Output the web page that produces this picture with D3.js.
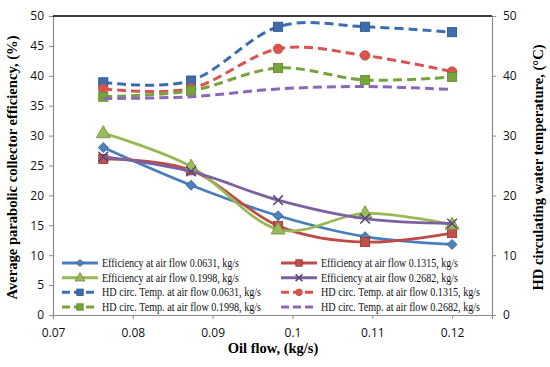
<!DOCTYPE html>
<html>
<head>
<meta charset="utf-8">
<script src="https://cdn.jsdelivr.net/npm/d3@7"></script>
<style>
  body { margin: 0; background: #fff; }
  svg { display: block; }
</style>
</head>
<body>
<svg id="chart" width="550" height="367"></svg>
<script>
// oil flow (kg/s)
var oilFlow = [0.0763, 0.0873, 0.0982, 0.1091, 0.12];
var xTicks = [0.07, 0.08, 0.09, 0.1, 0.11, 0.12];
var yTicksLeft = [0, 5, 10, 15, 20, 25, 30, 35, 40, 45, 50];
var yTicksRight = [0, 10, 20, 30, 40, 50];

// average collector efficiency (%)
var eff0631 = [28.0, 21.7, 16.6, 13.1, 11.8];
var eff1315 = [26.1, 24.2, 14.9, 12.2, 13.7];
var eff1998 = [30.4, 24.8, 14.3, 17.0, 15.1];
var eff2682 = [26.5, 24.0, 19.2, 16.1, 15.3];

// HD circulating water temperature (°C)
var hd0631 = [38.9, 39.2, 48.2, 48.2, 47.3];
var hd1315 = [37.8, 37.9, 44.5, 43.4, 40.7];
var hd1998 = [36.5, 37.5, 41.3, 39.3, 39.8];
var hd2682 = [36.2, 36.5, 37.8, 38.2, 37.7];

var svg = d3.select("#chart"),
    pLeft = 53, pRight = 492, pTop = 16, pBottom = 315;

var x = d3.scaleLinear().domain([0.07, 0.125]).range([pLeft, pRight]);
var yL = d3.scaleLinear().domain([0, 50]).range([pBottom, pTop]);
var yR = d3.scaleLinear().domain([0, 50]).range([pBottom, pTop]);

var tickFont = "'Open Sans', sans-serif";
var serif = "'Liberation Serif', 'Times New Roman', serif";

// axes
var axL = svg.append("g").attr("transform", "translate(" + pLeft + ",0)")
    .call(d3.axisLeft(yL).tickValues(yTicksLeft).tickSize(4).tickPadding(5).tickFormat(d3.format("d")));
var axR = svg.append("g").attr("transform", "translate(" + pRight + ",0)")
    .call(d3.axisRight(yR).tickValues(yTicksRight).tickSize(4).tickPadding(7).tickFormat(d3.format("d")));
var axB = svg.append("g").attr("transform", "translate(0," + pBottom + ")")
    .call(d3.axisBottom(x).tickValues(xTicks).tickSize(4).tickPadding(9).tickFormat(d => d3.format("")(d)));

[axL, axR, axB].forEach(function (a) {
    a.select(".domain").attr("stroke", "#8c8c8c").attr("stroke-width", 1.2);
    a.selectAll(".tick line").attr("stroke", "#8c8c8c");
    a.selectAll(".tick text").attr("font-family", tickFont).attr("font-size", 12).attr("fill", "#111");
});

// top border
svg.append("line").attr("x1", pLeft).attr("x2", pRight).attr("y1", pTop).attr("y2", pTop)
    .attr("stroke", "#000").attr("stroke-width", 1.5);

var blue = "#4A7EBB", red = "#BE4B48", green = "#98B954", purple = "#7D60A0";

var series = [
    { name: "Efficiency at air flow 0.0631, kg/s", data: eff0631, color: blue, fill: "#4F81BD", edge: "#385D8A", marker: "diamond", dash: null, y: yL },
    { name: "Efficiency at air flow 0.1315, kg/s", data: eff1315, color: red, fill: "#C0504D", edge: "#8C3836", marker: "square", dash: null, y: yL },
    { name: "Efficiency at air flow 0.1998, kg/s", data: eff1998, color: green, fill: "#9BBB59", edge: "#71893F", marker: "triangle", dash: null, y: yL },
    { name: "Efficiency at air flow 0.2682, kg/s", data: eff2682, color: purple, fill: "#8064A2", edge: "#5C4776", marker: "x", dash: null, y: yL },
    { name: "HD circ. Temp. at air flow 0.0631, kg/s", data: hd0631, color: "#3B6DB0", fill: "#3E6DAA", edge: "#2C5287", marker: "square", dash: "9,5", y: yR },
    { name: "HD circ. Temp. at air flow 0.1315, kg/s", data: hd1315, color: "#D9534F", fill: "#D9534F", edge: "#C0504D", marker: "circle", dash: "9,5", y: yR },
    { name: "HD circ. Temp. at air flow 0.1998, kg/s", data: hd1998, color: "#77A33E", fill: "#77A33E", edge: "#5F8A2C", marker: "square", dash: "9,5", y: yR },
    { name: "HD circ. Temp. at air flow 0.2682, kg/s", data: hd2682, color: "#8C67B8", fill: "#8C67B8", edge: "#8C67B8", marker: "none", dash: "9,5", y: yR }
];

var line = function (ys) {
    return d3.line()
        .x(function (d, i) { return x(oilFlow[i]); })
        .y(function (d) { return ys(d); })
        .curve(d3.curveCatmullRom.alpha(0));
};

function drawMarker(g, s, cx, cy, scale) {
    var k = scale || 1, m = s.marker;
    if (m === "diamond") {
        var r = 5 * k;
        g.append("path").attr("d", "M0," + (-r) + "L" + r + ",0L0," + r + "L" + (-r) + ",0Z")
            .attr("transform", "translate(" + cx + "," + cy + ")")
            .attr("fill", s.fill).attr("stroke", s.edge).attr("stroke-width", 0.8);
    } else if (m === "square") {
        var h = 4.6 * k;
        g.append("rect").attr("x", cx - h).attr("y", cy - h).attr("width", 2 * h).attr("height", 2 * h)
            .attr("fill", s.fill).attr("stroke", s.edge).attr("stroke-width", 0.8);
    } else if (m === "circle") {
        g.append("circle").attr("cx", cx).attr("cy", cy).attr("r", 4.8 * k)
            .attr("fill", s.fill).attr("stroke", s.edge).attr("stroke-width", 0.8);
    } else if (m === "triangle") {
        g.append("path").attr("d", d3.symbol().type(d3.symbolTriangle).size(85 * k * k)())
            .attr("transform", "translate(" + cx + "," + (cy + 0.5) + ")")
            .attr("fill", s.fill).attr("stroke", s.edge).attr("stroke-width", 0.8);
    } else if (m === "x") {
        var q = 4.8 * k;
        g.append("path").attr("d", "M" + (-q) + "," + (-q) + "L" + q + "," + q + "M" + (-q) + "," + q + "L" + q + "," + (-q))
            .attr("transform", "translate(" + cx + "," + cy + ")")
            .attr("stroke", "#5C4776").attr("stroke-width", 1.6).attr("fill", "none");
    }
}

var plot = svg.append("g");
// dashed HD series behind, efficiency on top
series.slice(4).concat(series.slice(0, 4)).forEach(function (s) {
    plot.append("path").datum(s.data)
        .attr("d", line(s.y))
        .attr("fill", "none")
        .attr("stroke", s.color)
        .attr("stroke-width", s.dash ? 3 : 2.8)
        .attr("stroke-dasharray", s.dash);
    s.data.forEach(function (v, i) {
        drawMarker(plot, s, x(oilFlow[i]), s.y(v));
    });
});

// legend: two columns, Excel row-wise order
var legend = svg.append("g");
var colX = [62, 281], rowY = [263, 277.7, 292.3, 307];
series.forEach(function (s, i) {
    var col = i % 2, row = Math.floor(i / 2);
    var lx = colX[col], ly = rowY[row];
    var g = legend.append("g");
    g.append("line").attr("x1", lx).attr("x2", lx + 36).attr("y1", ly).attr("y2", ly)
        .attr("stroke", s.color).attr("stroke-width", 3)
        .attr("stroke-dasharray", s.dash ? "8,4" : null);
    drawMarker(g, s, lx + 18, ly, 0.7);
    var isHD = i >= 4;
    g.append("text").attr("x", lx + 40).attr("y", ly + 4)
        .attr("font-family", serif).attr("font-size", 11.5)
        .attr("fill", "#111")
        .attr("textLength", isHD ? 159 : 137)
        .attr("lengthAdjust", "spacingAndGlyphs")
        .text(s.name);
});

// axis titles
svg.append("text")
    .attr("transform", "translate(17," + ((pTop + pBottom) / 2 + 2) + ") rotate(-90)")
    .attr("text-anchor", "middle")
    .attr("font-family", serif).attr("font-weight", "bold").attr("font-size", 14.6)
    .text("Average parabolic collector efficiency, (%)");

svg.append("text")
    .attr("transform", "translate(543," + ((pTop + pBottom) / 2 + 2) + ") rotate(-90)")
    .attr("text-anchor", "middle")
    .attr("font-family", serif).attr("font-weight", "bold").attr("font-size", 14.6)
    .text("HD circulating water temperature, (°C)");

svg.append("text")
    .attr("x", 273).attr("y", 353)
    .attr("text-anchor", "middle")
    .attr("font-family", serif).attr("font-weight", "bold").attr("font-size", 14.5)
    .text("Oil flow, (kg/s)");
</script>
</body>
</html>
